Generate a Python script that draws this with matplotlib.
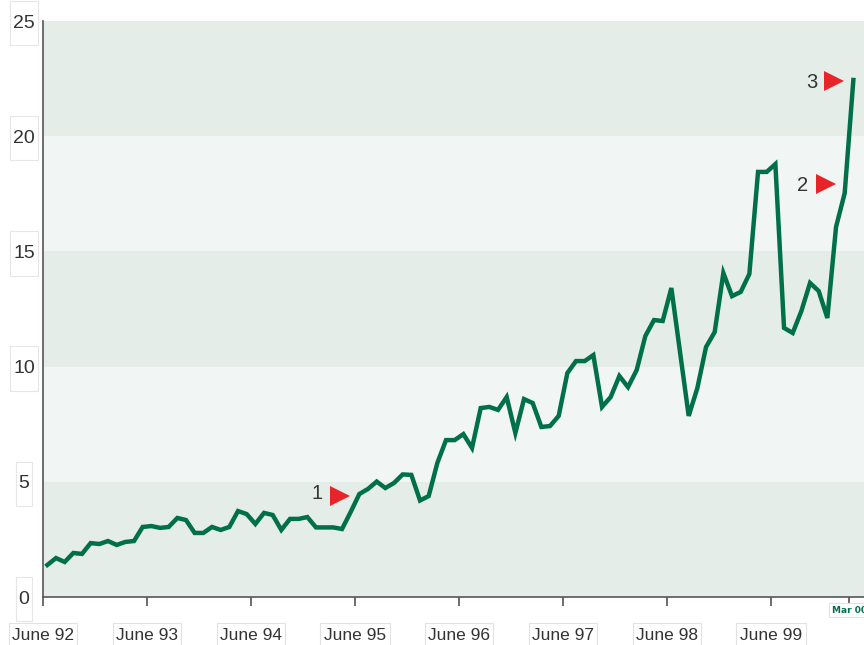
import matplotlib
matplotlib.use("Agg")
import matplotlib.pyplot as plt
from matplotlib.path import Path
import numpy as np

# ---------------- data ----------------
# monthly values, June 1992 .. March 2000 (94 months)
values = [1.39, 1.69, 1.52, 1.91, 1.87, 2.34, 2.30, 2.43, 2.26, 2.39,
          2.43, 3.04, 3.08, 3.00, 3.04, 3.43, 3.34, 2.78, 2.78, 3.04,
          2.91, 3.04, 3.73, 3.60, 3.17, 3.65, 3.56, 2.91, 3.39, 3.39,
          3.47, 3.02, 3.02, 3.02, 2.95, 3.69, 4.47, 4.69, 5.01, 4.73,
          4.95, 5.32, 5.30, 4.19, 4.38, 5.82, 6.81, 6.81, 7.07, 6.47,
          8.20, 8.25, 8.12, 8.68, 7.12, 8.59, 8.42, 7.38, 7.42, 7.86,
          9.72, 10.24, 10.24, 10.50, 8.25, 8.68, 9.59, 9.11, 9.85, 11.33,
          12.02, 11.98, 13.41, 10.63, 7.86, 9.07, 10.85, 11.50, 14.06, 13.06,
          13.24, 14.02, 18.45, 18.45, 18.79, 11.68, 11.46, 12.41, 13.63, 13.28,
          12.11, 16.06, 17.53, 22.44]
months = np.arange(len(values)) + 0.5        # months since June 1992 (mid-month)

xtick_pos = [0, 12, 24, 36, 48, 60, 72, 84]
xtick_labels = ["June 92", "June 93", "June 94", "June 95",
                "June 96", "June 97", "June 98", "June 99"]
last_tick_pos = 93
last_tick_label = "Mar 00"

ytick_pos = [0, 5, 10, 15, 20, 25]
ytick_labels = ["0", "5", "10", "15", "20", "25"]

marker_x = [34.3, 90.3, 91.3]
marker_y = [4.38, 17.93, 22.40]
marker_labels = ["1", "2", "3"]
label_dy = [3, 0, 0]   # small vertical offsets (points) of the number labels

# ---------------- style ----------------
GREEN = "#00704a"
RED = "#e8242b"
BAND_DARK = "#e5ede9"
BAND_LIGHT = "#f1f5f3"
TEXT = "#333333"
FONT = ["Liberation Sans", "DejaVu Sans"]


class PadBox:
    """Rectangular box with separate horizontal / vertical padding."""
    def __init__(self, padx, pady):
        self.padx = padx
        self.pady = pady

    def __call__(self, x0, y0, width, height, mutation_size):
        px = self.padx * mutation_size
        py = self.pady * mutation_size
        x0, y0 = x0 - px, y0 - py
        x1, y1 = x0 + width + 2 * px, y0 + height + 2 * py
        return Path([(x0, y0), (x1, y0), (x1, y1), (x0, y1), (x0, y0)], closed=True)


fig = plt.figure(figsize=(8.64, 6.45), dpi=100)
fig.patch.set_facecolor("white")
ax = fig.add_axes([43 / 864, 48 / 645, 821 / 864, 576 / 645])

# background bands
for i in range(len(ytick_pos) - 1):
    ax.axhspan(ytick_pos[i], ytick_pos[i + 1],
               color=BAND_DARK if i % 2 == 0 else BAND_LIGHT, lw=0, zorder=0)

ax.plot(months, values, color=GREEN, lw=3.2, zorder=3, solid_joinstyle="miter")

# markers with numbers
ax.plot(marker_x, marker_y, linestyle="none", marker=">", markersize=14,
        color=RED, markeredgewidth=0, zorder=4)
for mx, my, lab, dy in zip(marker_x, marker_y, marker_labels, label_dy):
    ax.annotate(lab, xy=(mx, my), xytext=(-16.5, dy), textcoords="offset points",
                ha="center", va="center_baseline", fontsize=14.5, color=TEXT,
                family=FONT)

ax.set_xlim(0, 821 / 8.667)
ax.set_ylim(0, 25)

for s in ["top", "right"]:
    ax.spines[s].set_visible(False)
for s in ["left", "bottom"]:
    ax.spines[s].set_color("#555555")
    ax.spines[s].set_linewidth(1.2)

# x ticks
ax.set_xticks(xtick_pos + [last_tick_pos])
ax.set_xticklabels(xtick_labels + [""], fontsize=12.5, color=TEXT, family=FONT)
ax.tick_params(axis="x", length=6.5, width=1.1, color="#444444", pad=15.5)
for lab in ax.get_xticklabels()[:-1]:
    lab.set_bbox(dict(boxstyle=PadBox(0.2, 0.25), fc="white", ec="#e2e2e2", lw=0.8))

ax.annotate(last_tick_label, xy=(last_tick_pos, 0), xytext=(0, -9.5),
            textcoords="offset points", ha="center", va="center",
            fontsize=6.5, fontweight="bold", color=GREEN, family="DejaVu Sans",
            annotation_clip=False,
            bbox=dict(boxstyle=PadBox(0.3, 0.3), fc="white", ec="#e2e2e2", lw=0.8))

# y ticks
ax.set_yticks(ytick_pos)
ax.set_yticklabels(ytick_labels, fontsize=14, color=TEXT, family=FONT)
ax.tick_params(axis="y", length=0, pad=13.7)
for lab in ax.get_yticklabels():
    lab.set_horizontalalignment("center")
    lab.set_bbox(dict(boxstyle=PadBox(0.15, 0.7), fc="white", ec="#e6e6e6", lw=0.8))

fig.savefig("out.png", dpi=100, facecolor="white")
